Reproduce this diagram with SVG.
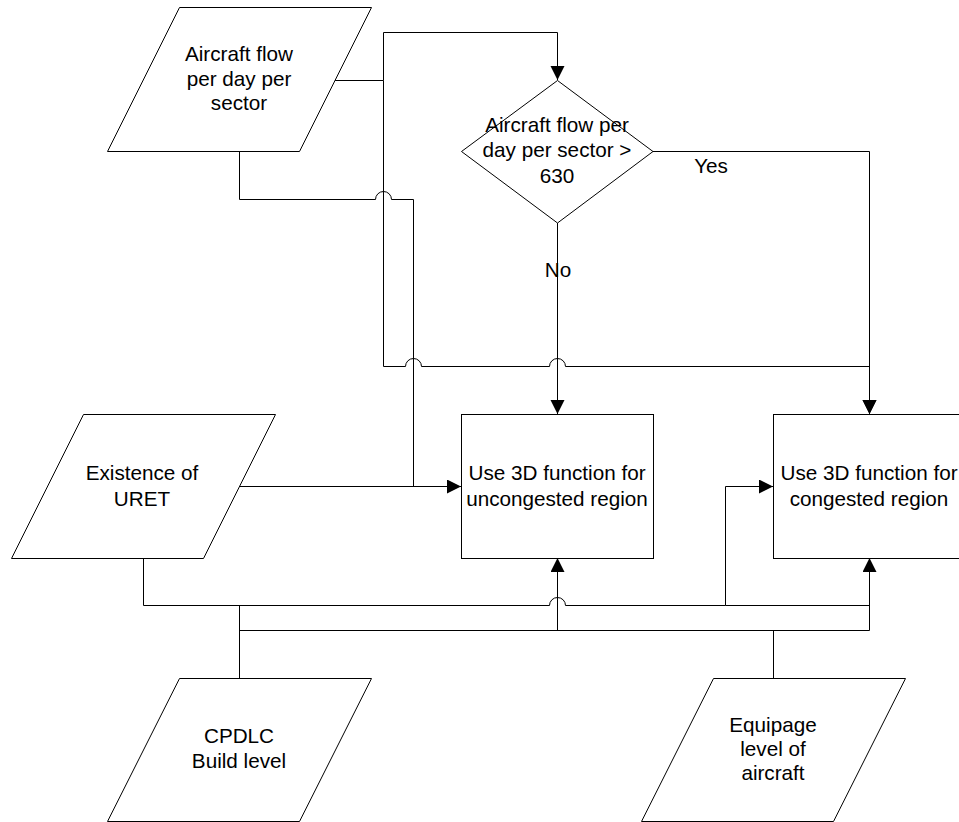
<svg xmlns="http://www.w3.org/2000/svg" width="959" height="822" viewBox="0 0 959 822">
  <style>
    .shape { fill: #fff; stroke: #000; stroke-width: 1; }
    .wire { fill: none; stroke: #000; stroke-width: 1; }
    text { font-family: "Liberation Sans", Arial, sans-serif; font-size: 20.7px; fill: #000; text-anchor: middle; }
  </style>
  <defs>
    <marker id="arrow" markerUnits="userSpaceOnUse" markerWidth="15" markerHeight="15" refX="14" refY="7" orient="auto">
      <path d="M0,0 L14,7 L0,14 z" fill="#000"/>
    </marker>
  </defs>
  <rect width="959" height="822" fill="#fff"/>

  <!-- connectors (line hops drawn as small upward arcs) -->
  <g id="connectors" class="wire">
    <!-- flow input: to decision and to congested box -->
    <path d="M335,80.5 H383.5"/>
    <path d="M383.5,80.5 V32.5 H557.5 V80" marker-end="url(#arrow)"/>
    <path d="M383.5,80.5 V366.5 H405.5 A8,8 0 0 1 421.5,366.5 H549.5 A8,8 0 0 1 565.5,366.5 H869.5 V414" marker-end="url(#arrow)"/>
    <!-- flow input bottom: to uncongested box -->
    <path d="M239.5,151 V199.5 H375.5 A8,8 0 0 1 391.5,199.5 H413.5 V486.5"/>
    <!-- URET to uncongested box -->
    <path d="M239,486.5 H461" marker-end="url(#arrow)"/>
    <!-- decision: No -->
    <path d="M557.5,223 V414" marker-end="url(#arrow)"/>
    <!-- decision: Yes -->
    <path d="M653,151.5 H869.5 V414" marker-end="url(#arrow)"/>
    <!-- URET bottom to congested box -->
    <path d="M143.5,558 V605.5 H549.5 A8,8 0 0 1 565.5,605.5 H725.5 V486.5 H773" marker-end="url(#arrow)"/>
    <path d="M725.5,605.5 H869.5"/>
    <!-- CPDLC / equipage bus -->
    <path d="M239.5,678 V605.5"/>
    <path d="M239.5,630.5 H869.5"/>
    <path d="M557.5,630.5 V558" marker-end="url(#arrow)"/>
    <path d="M869.5,630.5 V558" marker-end="url(#arrow)"/>
    <path d="M773.5,678 V630.5"/>
  </g>

  <g id="flow-input">
    <polygon class="shape" points="179.5,7.5 371.5,7.5 299.5,151.5 107.5,151.5"/>
    <text x="239" y="61">Aircraft flow</text>
    <text x="239" y="85.5">per day per</text>
    <text x="239" y="110">sector</text>
  </g>

  <g id="decision">
    <polygon class="shape" points="557.5,80.5 653,151.5 557.5,223 461.5,151.5"/>
    <text x="557" y="131.5">Aircraft flow per</text>
    <text x="557" y="157">day per sector &gt;</text>
    <text x="557" y="182.5">630</text>
  </g>

  <g id="label-yes">
    <text x="711" y="173">Yes</text>
  </g>

  <g id="label-no">
    <text x="558" y="277">No</text>
  </g>

  <g id="uret-input">
    <polygon class="shape" points="83.5,414.5 275.5,414.5 203.5,558.5 11.5,558.5"/>
    <text x="142" y="480">Existence of</text>
    <text x="142" y="506">URET</text>
  </g>

  <g id="uncongested">
    <rect class="shape" x="461.5" y="414.5" width="192" height="144"/>
    <text x="557" y="480">Use 3D function for</text>
    <text x="557" y="506">uncongested region</text>
  </g>

  <g id="congested">
    <rect class="shape" x="773.5" y="414.5" width="192" height="144"/>
    <text x="869" y="480">Use 3D function for</text>
    <text x="869" y="506">congested region</text>
  </g>

  <g id="cpdlc-input">
    <polygon class="shape" points="179.5,678.5 371.5,678.5 299.5,821.5 107.5,821.5"/>
    <text x="239" y="743">CPDLC</text>
    <text x="239" y="768">Build level</text>
  </g>

  <g id="equipage-input">
    <polygon class="shape" points="713.5,678.5 905.5,678.5 833.5,821.5 641.5,821.5"/>
    <text x="773" y="731.5">Equipage</text>
    <text x="773" y="756">level of</text>
    <text x="773" y="780">aircraft</text>
  </g>
</svg>
